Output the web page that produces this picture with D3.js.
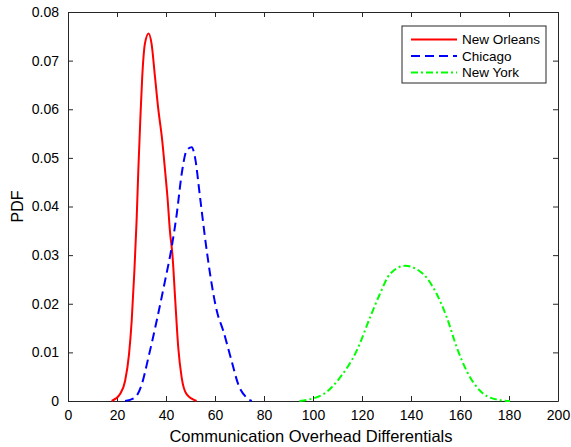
<!DOCTYPE html>
<html>
<head>
<meta charset="utf-8">
<script src="https://cdn.jsdelivr.net/npm/d3@7"></script>
<style>
  body { margin: 0; background: #fff; }
  svg { font-family: "Liberation Sans", Arial, sans-serif; }
</style>
</head>
<body>
<div id="chart"></div>
<script>
// values
const xTicks = [0, 20, 40, 60, 80, 100, 120, 140, 160, 180, 200];
const yTicks = [0, 0.01, 0.02, 0.03, 0.04, 0.05, 0.06, 0.07, 0.08];

const newOrleans = [
    [17.8, 0], [21.2, 0.0014], [23.3, 0.0041], [24.9, 0.0096], [26, 0.0165], [27.1, 0.0268],
    [28, 0.0371], [28.7, 0.0474], [29.5, 0.0577], [30.3, 0.0667], [31.4, 0.0735],
    [32.9, 0.0756], [34.1, 0.0735], [35.5, 0.0667], [36.9, 0.0598], [38.3, 0.0543],
    [39.6, 0.0475], [40.6, 0.0419], [41.6, 0.035], [42.7, 0.0296], [43.7, 0.0213],
    [45, 0.011], [46.4, 0.0048], [48.4, 0.0014], [52.5, 0]
];
const chicago = [
    [23.3, 0], [27.3, 0.0007], [30.1, 0.0034], [32.8, 0.0089], [36.2, 0.0165],
    [39.6, 0.0247], [42.3, 0.0316], [44.4, 0.0385], [46.4, 0.0467], [48.4, 0.0515],
    [50.5, 0.0522], [51.8, 0.0502], [53.9, 0.0419], [55.9, 0.0337], [58, 0.0261],
    [60.7, 0.0186], [63.4, 0.0144], [66.8, 0.0082], [69.5, 0.0034], [72.9, 0.0007], [75, 0]
];
const newYork = [
    [94.5, 0], [104.2, 0.0014], [111, 0.0048], [117.8, 0.0103], [123.3, 0.0172],
    [127.3, 0.022], [131.4, 0.0261], [137.6, 0.0278], [145, 0.0261], [150.5, 0.022],
    [154.6, 0.0172], [158.7, 0.011], [162.7, 0.0062], [168.2, 0.0021], [175, 0.0003], [180.4, 0]
];

const seriesNames = ["New Orleans", "Chicago", "New York"];
const seriesData = [newOrleans, chicago, newYork];
const seriesColors = ["#ff0000", "#0000ff", "#00ff00"];
const seriesDash = [null, "9,5", "7,3,2,3"];

const W = 571, H = 447;
const margin = { top: 12, right: 13, bottom: 46, left: 68 };
const width = W - margin.left - margin.right;
const height = H - margin.top - margin.bottom;

const svg = d3.select("#chart").append("svg")
    .attr("width", W)
    .attr("height", H);

const g = svg.append("g")
    .attr("transform", "translate(" + margin.left + "," + margin.top + ")");

const x = d3.scaleLinear().domain([0, 200]).range([0, width]);
const y = d3.scaleLinear().domain([0, 0.08]).range([height, 0]);

const axisColor = "#262626";

// axes, MATLAB style: ticks inside, box all round
const xAxis = g.append("g")
    .attr("transform", "translate(0," + height + ")")
    .call(d3.axisBottom(x).tickValues(xTicks).tickSizeInner(-5).tickSizeOuter(0).tickPadding(9));
const xTop = g.append("g")
    .call(d3.axisTop(x).tickValues(xTicks).tickSizeInner(-5).tickSizeOuter(0).tickFormat(""));
const yAxis = g.append("g")
    .call(d3.axisLeft(y).tickValues(yTicks).tickSizeInner(-5).tickSizeOuter(0).tickPadding(9)
        .tickFormat(d => d === 0 ? "0" : d3.format(".2f")(d)));
const yRight = g.append("g")
    .attr("transform", "translate(" + width + ",0)")
    .call(d3.axisRight(y).tickValues(yTicks).tickSizeInner(-5).tickSizeOuter(0).tickFormat(""));

[xAxis, xTop, yAxis, yRight].forEach(a => {
    a.selectAll("path").attr("stroke", axisColor).attr("stroke-width", 1);
    a.selectAll("line").attr("stroke", axisColor);
    a.selectAll("text").attr("fill", "#000").style("font-size", "14px");
});

const line = d3.line()
    .x(d => x(d[0]))
    .y(d => y(d[1]))
    .curve(d3.curveMonotoneX);

seriesData.forEach((data, i) => {
    g.append("path")
        .datum(data)
        .attr("fill", "none")
        .attr("stroke", seriesColors[i])
        .attr("stroke-width", 2)
        .attr("stroke-dasharray", seriesDash[i])
        .attr("d", line);
});

// legend
const legend = g.append("g")
    .attr("transform", "translate(" + (402 - margin.left) + "," + (26 - margin.top) + ")");
legend.append("rect")
    .attr("width", 144)
    .attr("height", 57)
    .attr("fill", "#fff")
    .attr("stroke", axisColor)
    .attr("stroke-width", 1);
seriesNames.forEach((name, i) => {
    const ly = 13.5 + i * 16.5;
    legend.append("line")
        .attr("x1", 9).attr("x2", 55)
        .attr("y1", ly).attr("y2", ly)
        .attr("stroke", seriesColors[i])
        .attr("stroke-width", 2)
        .attr("stroke-dasharray", seriesDash[i]);
    legend.append("text")
        .attr("x", 60)
        .attr("y", ly)
        .attr("dy", "0.35em")
        .style("font-size", "13.5px")
        .text(name);
});

// axis labels
svg.append("text")
    .attr("x", margin.left + width / 2 - 2)
    .attr("y", 442)
    .attr("text-anchor", "middle")
    .style("font-size", "16.5px")
    .text("Communication Overhead Differentials");

svg.append("text")
    .attr("transform", "translate(23," + (margin.top + height / 2) + ") rotate(-90)")
    .attr("text-anchor", "middle")
    .style("font-size", "16px")
    .text("PDF");
</script>
</body>
</html>
